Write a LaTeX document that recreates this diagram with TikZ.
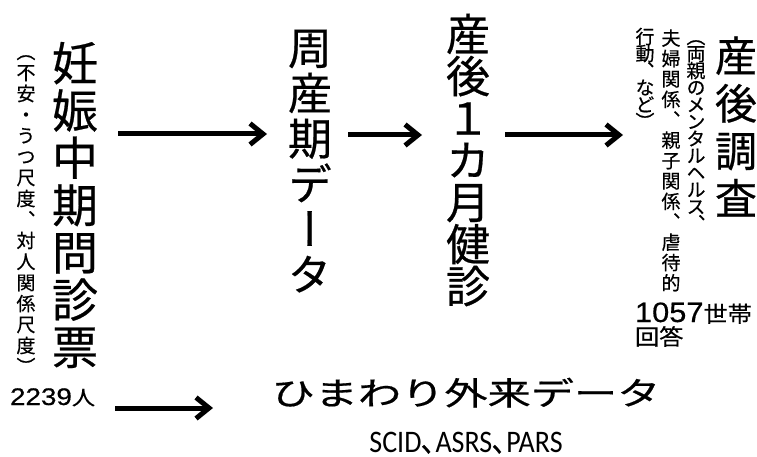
\documentclass[tikz,border=0pt]{standalone}
\usepackage{fontspec}
\usepackage{graphicx}
\usetikzlibrary{arrows.meta}
\newfontfamily\jp[FakeBold=0.5]{Noto Sans CJK JP}
\newfontfamily\vjp[RawFeature=+vert,FakeBold=0.5]{Noto Sans CJK JP}
\newfontfamily\lat[FakeBold=0.5]{Liberation Sans}
\newfontfamily\calfont{Carlito}
\newcommand\fs[1]{\fontsize{#1}{#1}\selectfont}
\ExplSyntaxOn
\NewDocumentCommand\vcol{mmm}{
  \vbox:n {
    \offinterlineskip
    \fontsize{#1}{#1}\selectfont \vjp
    \tl_map_inline:nn {#3} {
      \hbox_to_wd:nn {#1} { \hss \vbox_to_ht:nn {#2} { \vss \hbox:n {\vrule~height~.88em~depth~.12em~width~0pt ##1} \vss } \hss }
    }
  }
}
\ExplSyntaxOff
\tikzset{
  txt/.style={inner sep=0pt, outer sep=0pt},
  flow/.style={line width=5pt, -{Straight Barb[length=13pt,width=21pt]}}
}
\begin{document}
\begin{tikzpicture}[x=1pt,y=-1pt]
\useasboundingbox[fill=white] (0,0) rectangle (757,457);
% vertical columns
\node[txt] (ninshin) at (75,205) {\vcol{46pt}{47.3pt}{妊娠中期問診票}};
\node[txt] (shakudo) at (26,209) {\vcol{19pt}{21pt}{（不安・うつ尺度、対人関係尺度）}};
\node[txt] (shusanki) at (310,161) {\vcol{44pt}{45.3pt}{周産期データ}};
\node[txt] (kenshin) at (468,160) {\vcol{44pt}{42pt}{産後１カ月健診}};
\node[txt] (chosa) at (736,127) {\vcol{42pt}{47.5pt}{産後調査}};
\node[txt] (note1) at (696,130) {\vcol{19pt}{17pt}{（両親のメンタルヘルス、}};
\node[txt] (note2) at (671,160.5) {\vcol{19pt}{20.4pt}{夫婦関係、親子関係、虐待的}};
\node[txt] (note3) at (645,79) {\vcol{19pt}{17pt}{行動、など）}};
% horizontal texts
\node[txt,anchor=base west] (setai) at (635,322) {\scalebox{1.1}[1]{\fs{28pt}\lat 1057\jp\fs{22pt}世帯}};
\node[txt,anchor=base west] (kaito) at (635,345) {\scalebox{1.1}[1]{\jp\fs{22pt}回答}};
\node[txt,anchor=base west] (nin) at (10,405) {\scalebox{1.16}[1]{\fs{24pt}\lat 2239\jp\fs{20pt}人}};
\node[txt,anchor=base] (himawari) at (466,405) {\scalebox{1.35}[1]{\jp\fs{32pt}ひまわり外来データ}};
\node[txt,anchor=base] (scid) at (466,452) {\scalebox{1}[1.12]{\fs{28pt}\calfont SCID\jp ､\calfont ASRS\jp ､\calfont PARS}};
% arrows
\draw[flow, shorten <=20pt, shorten >=21pt] (ninshin.east |- 0,134) -- (shusanki.west |- 0,134);
\draw[flow, shorten <=16pt, shorten >=24pt] (shusanki.east |- 0,135) -- (kenshin.west |- 0,135);
\draw[flow, shorten <=15pt, shorten >=12.5pt] (kenshin.east |- 0,135) -- (note3.west |- 0,135);
\draw[flow, shorten <=20pt] (nin.east |- 0,408) -- (213,408) coordinate (a4end);
\end{tikzpicture}
\end{document}
